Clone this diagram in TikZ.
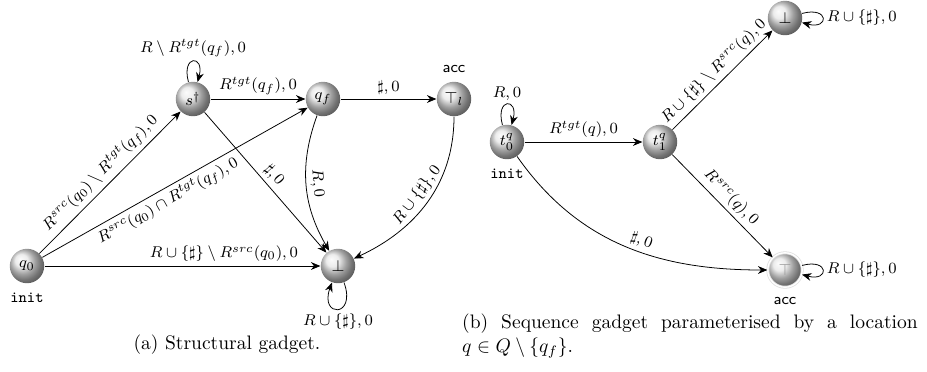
\documentclass[tikz,border=0pt]{standalone}
\usepackage{amsmath,amssymb}
\usetikzlibrary{arrows.meta,positioning,shadings}

\begin{document}
\begin{tikzpicture}[
    scale=0.9,
    ball/.style={circle, shading=ball, ball color=gray!20, minimum size=0.62cm, inner sep=0pt, font=\footnotesize},
    accball/.style={ball, draw=gray!25, double=white, double distance=0.7pt},
    arrow/.style={-{Stealth[length=1.7mm, width=1.4mm]}},
    lab/.style={font=\footnotesize, inner sep=2pt},
    selfloop/.style={arrow, min distance=4.5mm, looseness=8}
  ]
  \useasboundingbox (0,0) rectangle (18.54,-7.42);

  % (a) structural gadget
  \node[ball] (q0) at (0.54,-5.32) {$q_0$};
  \node[ball] (sdag) at (3.86,-1.98) {$s^\dagger$};
  \node[ball] (qf) at (6.46,-1.98) {$q_f$};
  \node[ball] (topl) at (9.08,-1.98) {$\top_l$};
  \node[ball] (bota) at (6.76,-5.32) {$\bot$};
  \node[font=\footnotesize\ttfamily, below=0.5mm of q0] (q0init) {init};
  \node[font=\footnotesize\sffamily, above=0.3mm of topl] (toplacc) {acc};

  \draw[selfloop] (sdag) to[out=105, in=75] node[lab, above] {$R\setminus R^{tgt}(q_f),0$} (sdag);
  \draw[arrow] (q0) -- node[lab, above, sloped] {$R^{src}(q_0)\setminus R^{tgt}(q_f),0$} (sdag);
  \draw[arrow] (q0) -- node[lab, below, sloped, pos=0.45] {$R^{src}(q_0)\cap R^{tgt}(q_f),0$} (qf);
  \draw[arrow] (q0) -- node[lab, above, pos=0.65] {$R\cup\{\sharp\}\setminus R^{src}(q_0),0$} (bota);
  \draw[arrow] (sdag) -- node[lab, above] {$R^{tgt}(q_f),0$} (qf);
  \draw[arrow] (qf) -- node[lab, above] {$\sharp,0$} (topl);
  \draw[arrow] (sdag) -- node[lab, above, sloped] {$\sharp,0$} (bota);
  \draw[arrow] (qf) to[bend right=25] node[lab, above, sloped] {$R,0$} (bota);
  \draw[arrow] (topl) to[out=-90, in=25] node[lab, above, sloped] {$R\cup\{\sharp\},0$} (bota);
  \draw[selfloop] (bota) to[out=-70, in=-110] node[lab, below] {$R\cup\{\sharp\},0$} (bota);

  \node (capa) at (4.54,-6.90) {(a) Structural gadget.};

  % (b) sequence gadget
  \node[ball] (t0) at (10.14,-2.84) {$t_0^q$};
  \node[ball] (t1) at (13.20,-2.84) {$t_1^q$};
  \node[ball] (botb) at (15.70,-0.36) {$\bot$};
  \node[accball, text=gray!80] (topb) at (15.70,-5.40) {$\top$};
  \node[font=\footnotesize\ttfamily, below=0.5mm of t0] (t0init) {init};
  \node[font=\footnotesize\sffamily, below=0.5mm of topb] (topbacc) {acc};

  \draw[selfloop] (t0) to[out=105, in=75] node[lab, above] {$R,0$} (t0);
  \draw[arrow] (t0) -- node[lab, above] {$R^{tgt}(q),0$} (t1);
  \draw[arrow] (t1) -- node[lab, above, sloped] {$R\cup\{\sharp\}\setminus R^{src}(q),0$} (botb);
  \draw[arrow] (t1) -- node[lab, above, sloped] {$R^{src}(q),0$} (topb);
  \draw[arrow] (t0) to[out=-55, in=180] node[lab, above, sloped, pos=0.55] {$\sharp,0$} (topb);
  \draw[selfloop] (botb) to[out=15, in=-15] node[lab, right] {$R\cup\{\sharp\},0$} (botb);
  \draw[selfloop] (topb) to[out=15, in=-15] node[lab, right] {$R\cup\{\sharp\},0$} (topb);

  \node[text width=8.2cm, align=justify] (capb) at (13.8,-6.72)
    {(b) Sequence gadget parameterised by a location\linebreak $q\in Q\setminus\{q_f\}$.};
\end{tikzpicture}
\end{document}
